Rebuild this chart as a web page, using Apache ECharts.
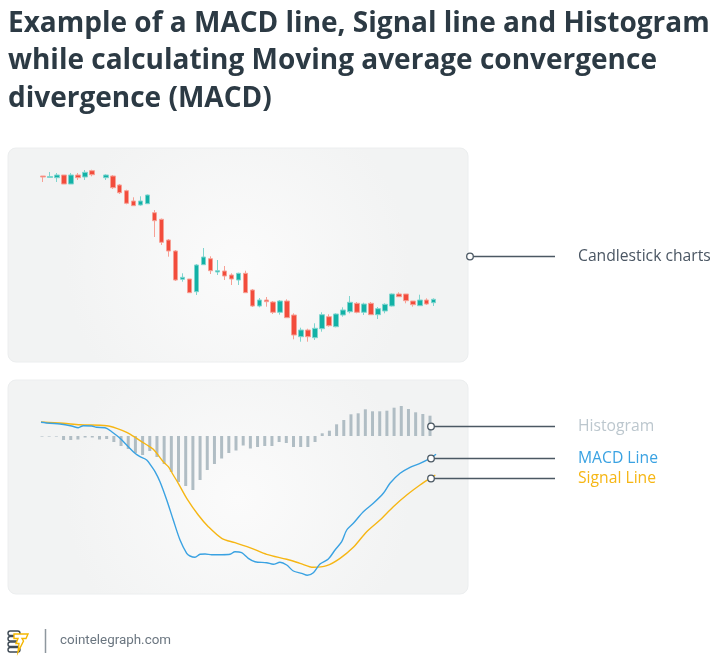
<!DOCTYPE html>
<html>
<head>
<meta charset="utf-8">
<script src="https://cdn.jsdelivr.net/npm/echarts@6/dist/echarts.min.js"></script>
<style>
html,body{margin:0;padding:0;background:#fff;}
#chart{width:726px;height:669px;}
</style>
</head>
<body>
<div id="chart"></div>
<script>
// candles: [open, close, low, high]
var candleDays = [];
for (var d = 1; d <= 57; d++) candleDays.push('D' + d);
var candleData = [
  [224, 223, 218, 224], [222.5, 223.5, 222, 228], [222.3, 225, 218, 227], [225, 216, 216, 225],
  [216, 225, 216, 227], [225, 222.3, 220, 227], [223, 227.7, 220, 230], [229.3, 225.3, 223.7, 230.3],
  '-', [222.3, 225, 220, 225.7], [224, 212.3, 211, 225], [215, 207.3, 206, 216],
  [209.3, 196.7, 195.7, 210.3], [199, 194.3, 194, 202.7], [195, 199, 194.3, 203.7], [196.3, 205, 196, 205.5],
  [187.3, 179.3, 163, 190], [180.7, 157.7, 155, 181.5], [160, 149, 143.3, 161], [149, 120, 119, 150],
  [120.7, 122.7, 118.3, 126.7], [121, 107.3, 107, 121], [108.3, 135, 105, 136], [135.3, 143, 135, 152],
  [141.3, 129.3, 126, 143.7], [128, 129.3, 125, 140], [129, 124, 120, 134], [125, 121, 115, 126.7],
  [120, 126.7, 115, 127.3], [126.7, 107.3, 107, 129.3], [110, 94, 93, 111], [94, 100, 92.7, 102],
  [100, 98.3, 93.3, 103], [98, 87.7, 86, 99], [87.7, 99, 85.3, 100], [99, 82.3, 82, 100.7],
  [85, 65, 60.7, 86.7], [63.3, 70, 58.3, 72.3], [70, 63.3, 58.3, 71.3], [62.3, 71.7, 60, 76.7],
  [71.3, 85.3, 68.3, 87.7], [83.3, 74.3, 73.3, 85.7], [73.3, 86, 72.7, 86.7], [85, 90, 83.3, 92.7],
  [88.3, 97.7, 86.7, 104], [96.7, 87.7, 86.7, 98], [87.7, 96, 85, 97.3], [96.7, 85.3, 85, 98],
  [85.3, 91.3, 81, 93], [89, 95.7, 86.7, 96.7], [94, 106, 93.5, 106.5], [106, 103.3, 103.3, 107.7],
  [106, 99.3, 96.7, 106], [99, 95.3, 93.3, 99], [94.3, 100, 94.3, 105.3], [100, 96, 95, 101.7],
  [97.3, 100.7, 94, 101.7]
];

var histValues = [
  -1, -1, -1, -4, -4, -3.5, -1.5, -1.5, -3.5, -3,
  -6, -10, -13, -17, -19, -15, -21, -28, -36, -46,
  -50, -54, -44, -34, -28, -22.5, -17, -14.5, -9.5, -12.5,
  -11, -10, -10, -6, -7, -11, -11, -11, -6, 2.7,
  5.3, 11.7, 16, 21.7, 22.7, 26.7, 24.7, 24.7, 25.3, 28.3,
  30, 27, 23.7, 22, 20.3
];

var macdLine = [
  [-0.14, 13.7], [1.11, 12.7], [2.51, 12], [4.13, 10], [5.05, 8.3], [5.75, 10.3], [6.92, 10],
  [7.61, 8.7], [8.77, 8.3], [9.7, 4.3], [10.86, -2.3], [12.01, -10.7], [12.94, -17.3],
  [13.64, -20.7], [14.57, -24], [15.27, -30.7], [15.73, -35.7], [16.42, -45.7], [17.36, -64],
  [18.27, -84], [19.21, -104], [20.14, -117.3], [20.6, -120], [21.29, -121.3], [21.99, -118.3],
  [22.69, -118], [23.62, -118.7], [25.01, -118.7], [26.17, -118.3], [26.86, -115.7],
  [27.79, -116.7], [28.71, -122.3], [29.65, -125.7], [31.27, -126.7], [32.19, -128.3],
  [33.12, -126.3], [34.06, -129], [34.98, -135], [36.14, -137.3], [36.92, -139.3],
  [37.76, -136.7], [38.69, -128], [39.85, -123], [40.78, -114], [41.71, -105.7], [42.41, -94],
  [43.33, -87.3], [44.72, -75.7], [46.11, -67.3], [47.5, -57.3], [48.43, -47.3], [49.83, -37.3],
  [51.22, -31.3], [52.61, -27.3], [54, -22.3], [54.84, -18.3]
];

var signalLine = [
  [-0.14, 14], [2.96, 12.7], [5.29, 11.3], [9, 10.3], [10.4, 7.7], [11.79, 3.7], [13.18, -2.3],
  [14.5, -8.5], [15.49, -13.3], [16.88, -25.7], [17.58, -30.7], [18.27, -39], [18.97, -47.3],
  [20.14, -62.3], [21.75, -79], [23.15, -90.7], [25.01, -102.3], [26.86, -106.7],
  [29.19, -112.3], [31.27, -118.3], [34.06, -123.3], [35.91, -127.3], [37.76, -131.3],
  [39.62, -129.7], [41.48, -122.3], [43.33, -111.3], [45.19, -95.7], [47.04, -84],
  [48.89, -70.7], [50.76, -59], [52.61, -49], [54, -42.3], [54.74, -39]
];

var labelNames = ['Candlestick charts', 'Histogram', 'MACD Line', 'Signal Line'];
var titleText = 'Example of a MACD line, Signal line and Histogram\nwhile calculating Moving average convergence\ndivergence (MACD)';

var RED = '#f24c3c', TEAL = '#12b1a6';
var BLUE = '#3aa2e2', GOLD = '#f6b614', GREY = '#b0bdc4', DARK = '#4b5863';

var myChart = echarts.init(document.getElementById('chart'), null, {renderer: 'canvas'});

function panel(y) {
  return {
    type: 'rect', z: -10, silent: true,
    shape: {x: 8, y: y, width: 460, height: 214, r: 8},
    style: {
      fill: new echarts.graphic.RadialGradient(0.5, 0.55, 0.8, [
        {offset: 0, color: '#fbfbfb'}, {offset: 1, color: '#f2f3f3'}
      ]),
      stroke: '#eceeef', lineWidth: 1
    }
  };
}

var option = {
  animation: false,
  backgroundColor: '#fff',
  title: {
    text: titleText, left: 8, top: 5, padding: 0,
    textStyle: {
      fontFamily: 'Open Sans', fontWeight: 700, fontSize: 28, lineHeight: 37.5, color: '#2c3a44'
    }
  },
  grid: [
    {left: 39.5, width: 397.7, top: 160, height: 200},
    {left: 38.4, width: 398.8, top: 376, height: 240}
  ],
  xAxis: [
    {gridIndex: 0, type: 'category', data: candleDays, boundaryGap: true, show: false},
    {gridIndex: 1, type: 'value', min: -0.5, max: 55, show: false}
  ],
  yAxis: [
    {gridIndex: 0, type: 'value', min: 40, max: 240, show: false},
    {gridIndex: 1, type: 'value', min: -180, max: 60, show: false}
  ],
  series: [
    {
      name: 'Candles', type: 'candlestick', xAxisIndex: 0, yAxisIndex: 0,
      barWidth: 5, data: candleData,
      itemStyle: {
        color: TEAL, color0: RED, borderColor: '#7fd5cf', borderColor0: '#f7a095', borderWidth: 1
      }
    },
    {
      name: 'Histogram', type: 'bar', xAxisIndex: 1, yAxisIndex: 1, barWidth: 3,
      data: histValues.map(function (v, i) { return [i, v]; }),
      itemStyle: {
        color: function (p) { return p.dataIndex < 3 ? '#cdd5da' : GREY; }
      }
    },
    {
      name: 'Signal Line', type: 'line', xAxisIndex: 1, yAxisIndex: 1, data: signalLine,
      smooth: 0.3, showSymbol: false, lineStyle: {color: GOLD, width: 1.4}
    },
    {
      name: 'MACD Line', type: 'line', xAxisIndex: 1, yAxisIndex: 1, data: macdLine,
      smooth: 0.3, showSymbol: false, lineStyle: {color: BLUE, width: 1.4}
    }
  ]
};
myChart.setOption(option);

// annotations: dots at series ends, leader lines and labels
function lastAt(arr, x) {
  for (var i = 0; i < arr.length; i++) if (arr[i][0] === x) return arr[i][1];
  return 0;
}
var lastIdx = histValues.length - 1;
var pHist = myChart.convertToPixel({gridIndex: 1}, [lastIdx, histValues[lastIdx] / 2]);
var pMacd = myChart.convertToPixel({gridIndex: 1}, [lastIdx, lastAt(macdLine, lastIdx)]);
var pSig = myChart.convertToPixel({gridIndex: 1}, [lastIdx, lastAt(signalLine, lastIdx)]);
var pCandle = [469, 256];

var notes = [
  {p: pCandle, text: labelNames[0], color: '#4a5663'},
  {p: pHist, text: labelNames[1], color: '#bcc7ce'},
  {p: pMacd, text: labelNames[2], color: BLUE},
  {p: pSig, text: labelNames[3], color: GOLD}
];

var graphics = [panel(148), panel(380)];
notes.forEach(function (n) {
  var x = n.p[0] + 1, y = Math.round(n.p[1]) + 0.5;
  graphics.push({
    type: 'line', z: 10, silent: true,
    shape: {x1: x + 3, y1: y, x2: 555, y2: y},
    style: {stroke: DARK, lineWidth: 1.3}
  });
  graphics.push({
    type: 'circle', z: 11, silent: true,
    shape: {cx: x, cy: y, r: 3.3},
    style: {fill: '#fff', stroke: DARK, lineWidth: 1.3}
  });
  graphics.push({
    type: 'text', z: 11, silent: true, x: 578, y: y,
    style: {text: n.text, fill: n.color, font: '15.7px "Open Sans"', verticalAlign: 'middle'}
  });
});

// footer logo
graphics.push(
  {type: 'rect', shape: {x: 8, y: 631, width: 12, height: 4.5, r: 2.2}, style: {fill: 'none', stroke: '#3e4a54', lineWidth: 1.4}},
  {type: 'rect', shape: {x: 8, y: 636.5, width: 12, height: 4.5, r: 2.2}, style: {fill: 'none', stroke: '#3e4a54', lineWidth: 1.4}},
  {type: 'rect', shape: {x: 8, y: 642, width: 12, height: 4.5, r: 2.2}, style: {fill: 'none', stroke: '#3e4a54', lineWidth: 1.4}},
  {type: 'rect', shape: {x: 8, y: 647.5, width: 12, height: 4.5, r: 2.2}, style: {fill: 'none', stroke: '#3e4a54', lineWidth: 1.4}},
  {type: 'polygon', shape: {points: [[14, 634], [28, 634], [26, 638.5], [22, 638.5], [23.5, 641], [18, 652], [19, 643.5], [16, 643.5], [18, 638.5], [14, 638.5]]},
    style: {fill: '#fff', stroke: '#f5b700', lineWidth: 1.4}},
  {type: 'line', shape: {x1: 45.5, y1: 629, x2: 45.5, y2: 653}, style: {stroke: '#8e979e', lineWidth: 1.5}},
  {type: 'text', x: 60, y: 641, style: {text: 'cointelegraph.com', fill: '#6b7680', font: '13.4px Roboto', verticalAlign: 'middle'}}
);

myChart.setOption({graphic: graphics});
</script>
</body>
</html>
